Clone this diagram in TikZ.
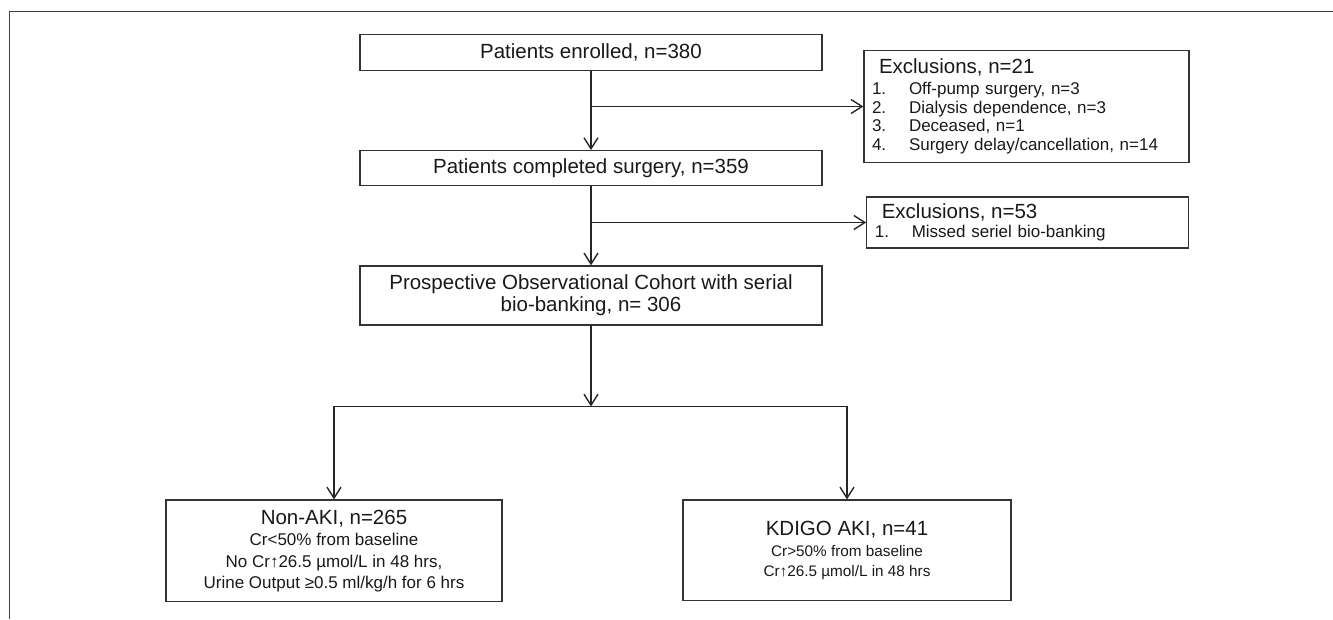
\documentclass[tikz,border=0pt]{standalone}
\usepackage{fontspec}
\setmainfont{Liberation Sans}
\usetikzlibrary{arrows.meta}

\newcommand{\headsize}{\fontsize{20.5}{22}\selectfont}
\newcommand{\itemsize}{\fontsize{17}{18.5}\selectfont}
\newcommand{\itemno}[1]{\makebox[37pt][l]{#1}}

\begin{document}
\begin{tikzpicture}[x=1pt,y=1pt]
\tikzstyle{every node}+=[inner sep=0pt, text=black!90]
\tikzstyle{box}=[draw=black!80, line width=1.3pt, align=center]
\tikzstyle{link}=[draw=black!85, line width=1.4pt]
\tikzstyle{arr}=[link, -{Straight Barb[length=11pt,width=14pt]}]
\useasboundingbox (0,0) rectangle (1333,-619);
% frame
\draw [black!75, line width=1.4pt] (1333,-11.7) -- (9.3,-11.7) -- (9.3,-619);
% main column
\node [box, minimum width=462pt, minimum height=36pt, font=\headsize] (enrolled) at (591,-52.8) {Patients enrolled, n=380};
\node [box, minimum width=462pt, minimum height=35pt, font=\headsize] (completed) at (591,-168.2) {Patients completed surgery, n=359};
\node [box, minimum width=462pt, minimum height=59pt, font=\fontsize{20.5}{22}\selectfont] (cohort) at (591,-295.5) {Prospective Observational Cohort with serial\\bio-banking, n= 306};
% exclusions
\node [box, minimum width=325pt, minimum height=111.6pt, text width=309pt, align=left, font=\itemsize] (excl1) at (1026.5,-106.5) {{\headsize\hspace*{7pt}Exclusions, n=21}\\[2.5pt]
\itemno{1.}Off-pump surgery, n=3\\
\itemno{2.}Dialysis dependence, n=3\\
\itemno{3.}Deceased, n=1\\
\itemno{4.}Surgery delay/cancellation, n=14};
\node [box, minimum width=322pt, minimum height=51pt, text width=306pt, align=left, font=\itemsize] (excl2) at (1027.8,-222.5) {{\headsize\hspace*{7pt}Exclusions, n=53}\\[1pt]
\itemno{1.}Missed seriel bio-banking};
% outcome groups
\node [box, minimum width=336pt, minimum height=101.7pt, font=\fontsize{17}{21.5}\selectfont] (nonaki) at (334,-550.9) {{\headsize Non-AKI, n=265}\\
Cr<50\% from baseline\\
No Cr↑26.5 µmol/L in 48 hrs,\\
Urine Output ≥0.5 ml/kg/h for 6 hrs};
\node [box, minimum width=328pt, minimum height=100.7pt, font=\fontsize{15.3}{20}\selectfont] (kdigo) at (847,-550.4) {{\headsize KDIGO AKI, n=41}\\[1pt]
Cr>50\% from baseline\\
Cr↑26.5 µmol/L in 48 hrs};
% connectors
\coordinate (split) at (591,-406.5);
\draw [arr] (enrolled) -- (completed);
\draw [arr] (enrolled.south |- excl1.west) -- (excl1.west);
\draw [arr] (completed) -- (cohort);
\draw [arr] (completed.south |- excl2.west) -- (excl2.west);
\draw [arr] (cohort) -- (split);
\draw [link, line cap=rect] (nonaki.north |- split) -- (kdigo.north |- split);
\draw [arr] (nonaki.north |- split) -- (nonaki);
\draw [arr] (kdigo.north |- split) -- (kdigo);
\end{tikzpicture}
\end{document}
